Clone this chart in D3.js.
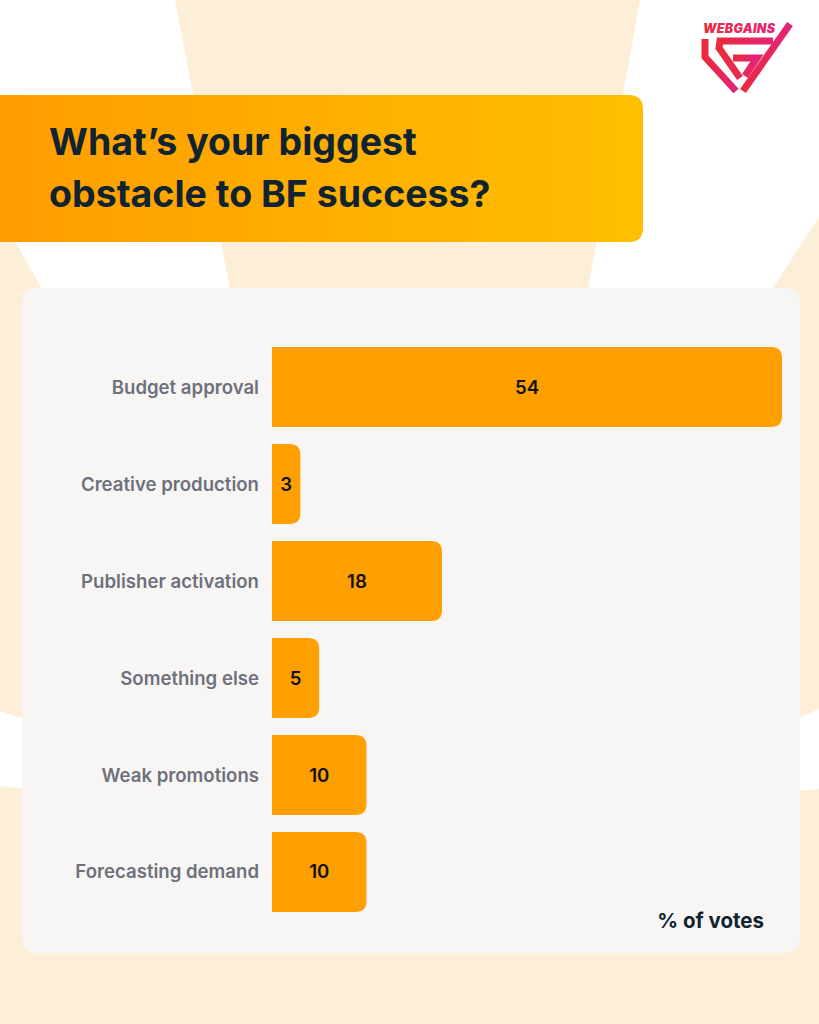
<html>
<head>
<meta charset="utf8">
<style>
  body { margin: 0; background: #fdeed8; }
  svg { display: block; }
</style>
</head>
<body>
<div id="canvas"></div>
<script src="https://cdn.jsdelivr.net/npm/d3@7"></script>
<script>

// data
const categories = ['Budget approval', 'Creative production', 'Publisher activation', 'Something else', 'Weak promotions', 'Forecasting demand'];
const votes = [54, 3, 18, 5, 10, 10];
const titleLines = ["What\u2019s your biggest", "obstacle to BF success?"];
const unitLabel = "% of votes";

const W = 819, H = 1024;
const svg = d3.select("#canvas").append("svg")
    .attr("width", W)
    .attr("height", H)
    .attr("viewBox", `0 0 ${W} ${H}`);

const defs = svg.append("defs");
const titleGrad = defs.append("linearGradient").attr("id", "titleGrad")
    .attr("x1", "0%").attr("x2", "100%").attr("y1", "0%").attr("y2", "0%");
titleGrad.append("stop").attr("offset", "0%").attr("stop-color", "#ff9d00");
titleGrad.append("stop").attr("offset", "100%").attr("stop-color", "#ffbf00");

const logoGrad = defs.append("linearGradient").attr("id", "logoGrad")
    .attr("x1", "0%").attr("x2", "100%").attr("y1", "0%").attr("y2", "0%");
logoGrad.append("stop").attr("offset", "0%").attr("stop-color", "#ea2b3b");
logoGrad.append("stop").attr("offset", "100%").attr("stop-color", "#e3237a");

// background: cream with white light beams
svg.append("rect").attr("width", W).attr("height", H).attr("fill", "#fdeed8");
const beams = [
    [[0,0],[175,0],[232,300],[48,300],[16,243],[0,218]],
    [[640,0],[819,0],[819,217],[765,300],[586,300]],
    [[0,711],[60,730],[60,794],[0,786]],
    [[819,709],[760,735],[760,794],[819,789]]
];
svg.selectAll("polygon.beam").data(beams).join("polygon")
    .attr("class", "beam")
    .attr("points", d => d.map(p => p.join(",")).join(" "))
    .attr("fill", "#ffffff");

// title box (rounded right corners only)
const tb = {x: 0, y: 95, w: 643, h: 147, r: 14};
svg.append("path")
    .attr("d", `M${tb.x},${tb.y} H${tb.x+tb.w-tb.r} Q${tb.x+tb.w},${tb.y} ${tb.x+tb.w},${tb.y+tb.r}
        V${tb.y+tb.h-tb.r} Q${tb.x+tb.w},${tb.y+tb.h} ${tb.x+tb.w-tb.r},${tb.y+tb.h} H${tb.x} Z`)
    .attr("fill", "url(#titleGrad)");

svg.selectAll("text.title").data(titleLines).join("text")
    .attr("class", "title")
    .attr("x", 49)
    .attr("y", (d, i) => 155 + i * 52)
    .attr("font-family", "Inter, 'Noto Sans', sans-serif")
    .attr("font-weight", 700)
    .attr("font-size", 37.5)
    .attr("fill", "#0f2330")
    .text(d => d);

// logo
const logo = svg.append("g");
logo.append("text")
    .attr("x", 703).attr("y", 33)
    .attr("font-family", "Inter, 'Noto Sans', sans-serif")
    .attr("font-weight", 900)
    .attr("font-style", "italic")
    .attr("font-size", 12.5)
    .attr("textLength", 72)
    .attr("fill", "url(#logoGrad)")
    .text("WEBGAINS");
const logoLines = [
    "M705,39 L705,57 L736,91",
    "M790,24 L743,91",
    "M773,41 L720,41 L719,48 L740,78",
    "M733,58 L757,58 L745,76"
];
logo.selectAll("path").data(logoLines).join("path")
    .attr("d", d => d)
    .attr("fill", "none")
    .attr("stroke", "url(#logoGrad)")
    .attr("stroke-width", 7)
    .attr("stroke-linejoin", "miter");

// card
svg.append("rect")
    .attr("x", 22).attr("y", 288)
    .attr("width", 778).attr("height", 665)
    .attr("rx", 14)
    .attr("fill", "#f7f6f5");

// scales
const x = d3.scaleLinear().domain([0, d3.max(votes)]).range([272, 782]);
const y = d3.scaleBand().domain(categories).range([347, 912]).paddingInner(0.175).paddingOuter(0);

const rows = categories.map((c, i) => ({cat: c, v: votes[i]}));

function barPath(d) {
    const x0 = x(0), x1 = x(d.v), y0 = y(d.cat), h = y.bandwidth();
    const r = Math.min(11, (x1 - x0) / 2);
    return `M${x0},${y0} H${x1-r} Q${x1},${y0} ${x1},${y0+r} V${y0+h-r} Q${x1},${y0+h} ${x1-r},${y0+h} H${x0} Z`;
}

svg.selectAll("path.bar").data(rows).join("path")
    .attr("class", "bar")
    .attr("d", barPath)
    .attr("fill", "#ffa000");

svg.selectAll("text.cat").data(rows).join("text")
    .attr("class", "cat")
    .attr("x", 259)
    .attr("y", d => y(d.cat) + y.bandwidth() / 2)
    .attr("dy", "0.35em")
    .attr("text-anchor", "end")
    .attr("font-family", "Inter, 'Noto Sans', sans-serif")
    .attr("font-weight", 600)
    .attr("font-size", 18.6)
    .attr("fill", "#6e717c")
    .text(d => d.cat);

svg.selectAll("text.val").data(rows).join("text")
    .attr("class", "val")
    .attr("x", d => (x(0) + x(d.v)) / 2)
    .attr("y", d => y(d.cat) + y.bandwidth() / 2)
    .attr("dy", "0.35em")
    .attr("text-anchor", "middle")
    .attr("font-family", "Inter, 'Noto Sans', sans-serif")
    .attr("font-weight", 600)
    .attr("font-size", 18.6)
    .attr("fill", "#121212")
    .text(d => d.v);

svg.append("text")
    .attr("x", 764).attr("y", 928)
    .attr("text-anchor", "end")
    .attr("font-family", "Inter, 'Noto Sans', sans-serif")
    .attr("font-weight", 700)
    .attr("font-size", 20.5)
    .attr("fill", "#0f2330")
    .text(unitLabel);
</script>

</body>
</html>
